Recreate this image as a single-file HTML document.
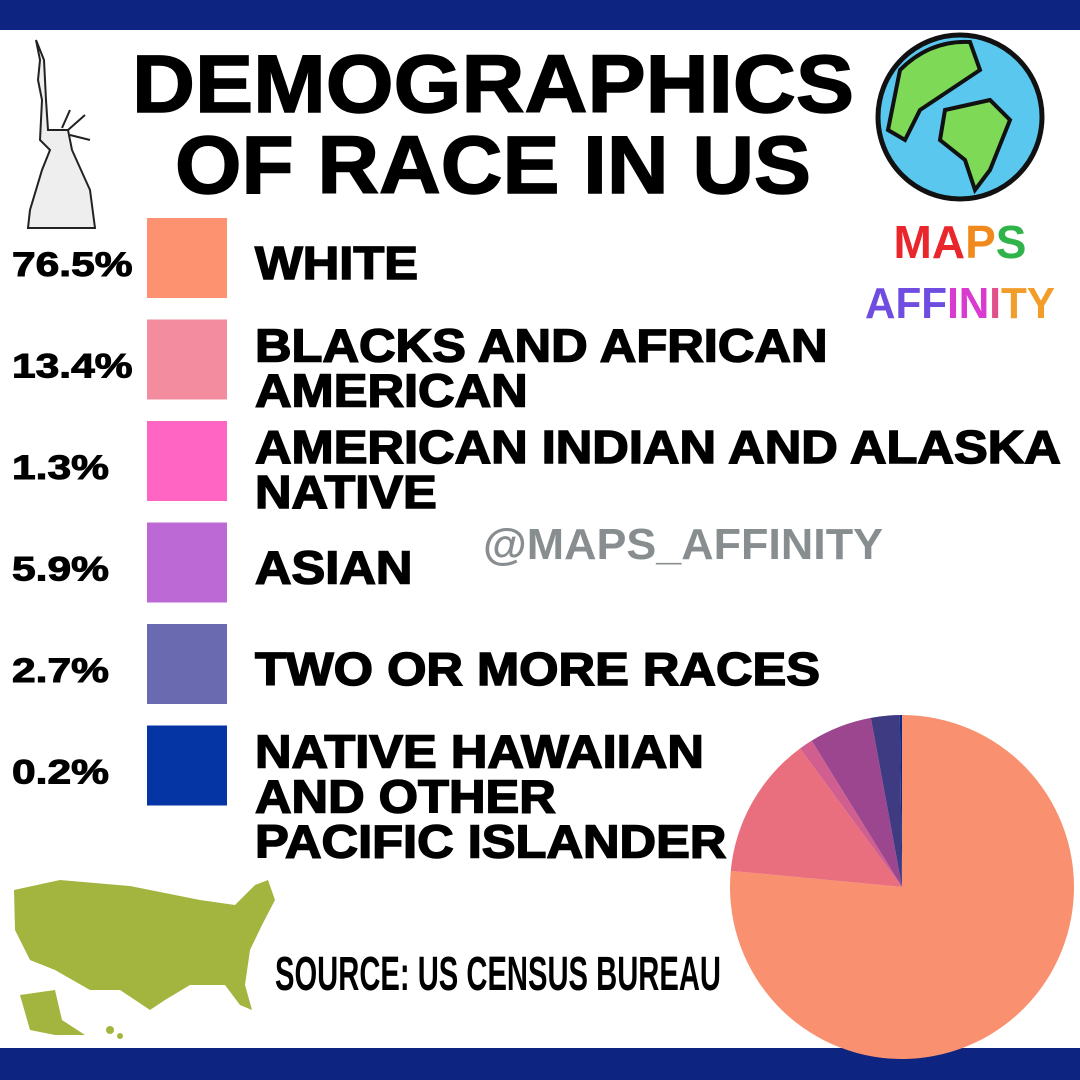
<!DOCTYPE html>
<html><head><meta charset="utf-8"><style>
html,body{margin:0;padding:0;background:#fff;}
svg{display:block;font-family:"Liberation Sans",sans-serif;}
</style></head><body>
<svg id="root" width="1080" height="1080" viewBox="0 0 1080 1080">
<rect x="0" y="0" width="1080" height="30" fill="#0d2580"/>
<rect x="0" y="1048" width="1080" height="32" fill="#0d2580"/>

<g fill="none" stroke="#222" stroke-width="2">
<path d="M36 40 L40 60 L38 80 L42 100 L40 140 L50 150 L42 170 L30 210 L28 228 L95 228 L90 190 L72 150 L68 130 L48 130 L46 100 L44 60 Z" fill="#eee"/>
<path d="M62 128 L70 110 M68 130 L85 115 M70 135 L90 140"/>
</g>

<text x="493" y="112" text-anchor="middle" font-size="82" font-weight="bold" stroke="#000" stroke-width="1.5" textLength="722" lengthAdjust="spacingAndGlyphs">DEMOGRAPHICS</text>
<text x="493" y="193" text-anchor="middle" font-size="82" font-weight="bold" stroke="#000" stroke-width="1.5" textLength="636" lengthAdjust="spacingAndGlyphs">OF RACE IN US</text>

<g>
<circle cx="960" cy="117" r="82" fill="#5ac8ee" stroke="#111" stroke-width="5"/>
<path d="M900 70 Q930 40 970 42 L980 70 L950 90 L920 110 L905 140 L888 130 Z" fill="#7ed957" stroke="#111" stroke-width="4"/>
<path d="M945 110 L990 100 L1010 120 L990 170 L975 190 L965 160 L940 140 Z" fill="#7ed957" stroke="#111" stroke-width="4"/>
</g>
<text x="960" y="258" text-anchor="middle" font-size="46" font-weight="bold"><tspan fill="#e8262b">M</tspan><tspan fill="#e8262b">A</tspan><tspan fill="#f08a1c">P</tspan><tspan fill="#2fb34a">S</tspan></text>
<text x="960" y="318" text-anchor="middle" font-size="44" font-weight="bold" textLength="190" lengthAdjust="spacingAndGlyphs"><tspan fill="#6f4de0">AFF</tspan><tspan fill="#d93ad0">IN</tspan><tspan fill="#e0508a">I</tspan><tspan fill="#f29c2a">TY</tspan></text>

<g id="legend"></g>

<text x="683" y="559" text-anchor="middle" font-size="44" font-weight="bold" fill="#888d90" textLength="400" lengthAdjust="spacingAndGlyphs">@MAPS_AFFINITY</text>

<g fill="#a3b53f">
<path d="M14 890 L60 880 L130 886 L200 900 L235 905 L255 885 L268 880 L275 900 L262 925 L250 950 L245 985 L252 1010 L240 1005 L225 985 L190 985 L165 1000 L150 1010 L120 990 L90 990 L55 970 L30 960 L15 930 Z"/>
<path d="M20 995 L55 990 L62 1020 L85 1035 L55 1035 L30 1030 Z"/>
<circle cx="110" cy="1030" r="4"/><circle cx="120" cy="1036" r="3"/>
</g>
<text x="498" y="990" text-anchor="middle" font-size="48" font-weight="bold" textLength="446" lengthAdjust="spacingAndGlyphs">SOURCE: US CENSUS BUREAU</text>

<g id="pie"></g>
</svg>
<script>
const categories = ["WHITE","BLACKS AND AFRICAN AMERICAN","AMERICAN INDIAN AND ALASKA NATIVE","ASIAN","TWO OR MORE RACES","NATIVE HAWAIIAN AND OTHER PACIFIC ISLANDER"];
const values = [76.5,13.4,1.3,5.9,2.7,0.2];
const valueLabels = ["76.5%","13.4%","1.3%","5.9%","2.7%","0.2%"];
const legendLines = [["WHITE"],["BLACKS AND AFRICAN","AMERICAN"],["AMERICAN INDIAN AND ALASKA","NATIVE"],["ASIAN"],["TWO OR MORE RACES"],["NATIVE HAWAIIAN","AND OTHER","PACIFIC ISLANDER"]];
const swatchColors = ["#fc926f","#f28c9e","#ff65c3","#bc69d6","#6a6ab0","#0535a5"];
const pieColors = ["#f9906f","#ea6f7e","#d05e8f","#9d4690","#3f3b83","#0a2a8a"];

const NS="http://www.w3.org/2000/svg";
const legend=document.getElementById('legend');
const rowTop=218, rowStep=101.5;
function mk(tag,attrs,parent){const e=document.createElementNS(NS,tag);for(const k in attrs)e.setAttribute(k,attrs[k]);parent.appendChild(e);return e;}
function widen(t,f){const w=t.getComputedTextLength();t.setAttribute('textLength',(w*f).toFixed(1));t.setAttribute('lengthAdjust','spacingAndGlyphs');}
categories.forEach((c,i)=>{
  const y=rowTop+i*rowStep;
  const g=mk('g',{},legend);
  
  
  const r=mk('rect',{x:147,y:y,width:80,height:80,fill:swatchColors[i]},g);
  
  
  const v=mk('text',{x:12,y:y+58,'font-size':34,'font-weight':'bold',stroke:'#000','stroke-width':1},g);
  v.textContent=valueLabels[i];
  
  
  widen(v,1.25);
  const lines=legendLines[i];
  const baseY = lines.length===1 ? y+61 : y+42;
  lines.forEach((ln,j)=>{
    const t=mk('text',{x:255,y:baseY+j*45,'font-size':46,'font-weight':'bold',stroke:'#000','stroke-width':1.5},g);
    t.textContent=ln;
    
    
    widen(t,1.1);
  });
});

const pie=document.getElementById('pie');
const cx=902, cy=887, R=172;
const total=values.reduce((a,b)=>a+b,0);
function pt(frac){const a=frac*2*Math.PI;return [cx+R*Math.sin(a), cy-R*Math.cos(a)];}
let acc=0;
values.forEach((v,i)=>{
  const f0=acc/total, f1=(acc+v)/total; acc+=v;
  const p0=pt(f0), p1=pt(f1);
  const large=(f1-f0)>0.5?1:0;
  const p=mk('path',{d:`M${cx} ${cy} L${p0[0]} ${p0[1]} A${R} ${R} 0 ${large} 1 ${p1[0]} ${p1[1]} Z`,fill:pieColors[i]},pie);
  
  
});
</script>
</body></html>
